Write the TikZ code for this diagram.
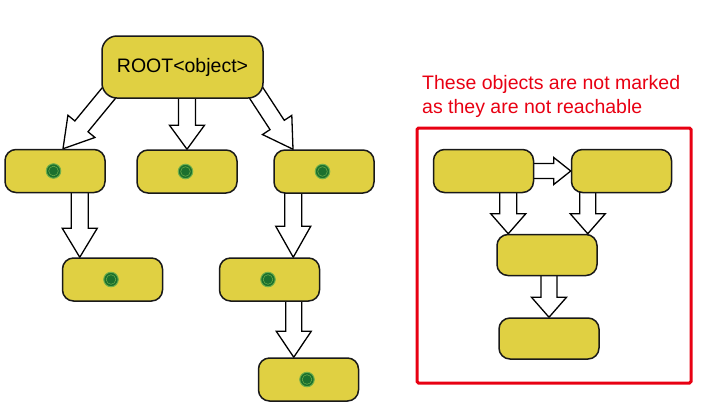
\documentclass[tikz,border=0pt]{standalone}
\usepackage{fontspec}
\setmainfont{Liberation Sans}
\usetikzlibrary{calc,backgrounds}

\definecolor{objyellow}{RGB}{224,208,66}
\definecolor{dotgreen}{RGB}{27,112,46}
\definecolor{dotring}{RGB}{110,175,75}
\definecolor{alertred}{RGB}{232,0,18}

\tikzset{
    obj/.style={draw=black!90, line width=1.5pt, fill=objyellow, rounded corners=11pt,
        minimum width=100pt, minimum height=43pt, inner sep=0pt},
    markdot/.style={circle, fill=dotgreen, draw=dotring, line width=1pt,
        minimum size=14.5pt, inner sep=0pt,
        path picture={\draw[dotring, line width=0.5pt] (path picture bounding box.center) circle[radius=4.8pt];}},
    barrow/.style={draw=black, fill=white, line width=1.3pt, line join=miter},
    alertframe/.style={draw=alertred, line width=3pt, rounded corners=1.5pt},
}

% hollow block arrow: start, tip, shaft half width, head half width, head length
\newcommand{\blockarrow}[5]{%
    \path (#2) coordinate (ba-t);
    \path (#1) coordinate (ba-s0);
    \path ($(ba-s0)!-4pt!(ba-t)$) coordinate (ba-s);
    \path ($(ba-t)!#5!(ba-s)$) coordinate (ba-h);
    \draw[barrow] ($(ba-s)!#3!90:(ba-t)$) -- ($(ba-h)!#3!90:(ba-t)$) -- ($(ba-h)!#4!90:(ba-t)$)
        -- (ba-t) -- ($(ba-h)!#4!-90:(ba-t)$) -- ($(ba-h)!#3!-90:(ba-t)$) -- ($(ba-s)!#3!-90:(ba-t)$) -- cycle;
}

\begin{document}
\begin{tikzpicture}[x=1pt, y=-1pt]
    \useasboundingbox (0,0) rectangle (707,408);

    % reachable objects
    \node[obj, minimum width=161pt, minimum height=62pt, rounded corners=15pt,
        font=\fontsize{19.5}{23}\selectfont] (root) at (182.5,67) {ROOT<object>};
    \node[obj] (left) at (55,171) {};
    \node[obj] (mid) at (187,171.5) {};
    \node[obj] (right) at (324,171.5) {};
    \node[obj] (leftchild) at (112.5,279.5) {};
    \node[obj] (rightchild) at (269.5,279.5) {};
    \node[obj] (leaf) at (308.5,379.5) {};

    \foreach \n in {left,mid,right,leftchild,rightchild,leaf}
        \node[markdot] at ([xshift=-1.5pt]\n.center) {};

    % unreachable objects
    \node[obj] (u1) at (483.5,171) {};
    \node[obj] (u2) at (621.5,171) {};
    \node[obj, minimum height=41pt] (u3) at (547,255) {};
    \node[obj, minimum height=41pt] (u4) at (549,338.5) {};

    \draw[alertframe] (417,128) rectangle (691,383);
    \node[anchor=base west, align=left, inner sep=0pt, text=alertred,
        font=\fontsize{19.5}{24}\selectfont] (note) at (422,113)
        {These objects are not marked\\as they are not reachable};

    \begin{scope}[on background layer]
        \blockarrow{[xshift=7pt,yshift=5pt]root.south west}{[xshift=8pt]left.north}{8.5pt}{17.5pt}{29pt}
        \blockarrow{root.south -| ba-t}{mid.north}{8.5pt}{17.5pt}{24pt}
        \blockarrow{[xshift=-7pt,yshift=5pt]root.south east}{[xshift=-31pt]right.north}{8.5pt}{17.5pt}{29pt}
        \blockarrow{left.south -| ba-t}{[xshift=18pt]leftchild.north west}{8.5pt}{17.5pt}{29pt}
        \blockarrow{right.south -| ba-t}{[xshift=-27pt]rightchild.north east}{8.5pt}{17.5pt}{31pt}
        \blockarrow{rightchild.south -| ba-t}{[xshift=36pt]leaf.north west}{8pt}{17.5pt}{26pt}

        \blockarrow{u1.east}{u2.west}{7.5pt}{13.5pt}{17pt}
        \blockarrow{u1.south -| ba-t}{[xshift=12pt]u3.north west}{8.5pt}{17.5pt}{20pt}
        \blockarrow{u2.south -| ba-t}{[xshift=-10pt]u3.north east}{8pt}{17.5pt}{20pt}
        \blockarrow{u3.south -| ba-t}{u4.north}{8pt}{17.5pt}{20pt}
    \end{scope}
\end{tikzpicture}
\end{document}
